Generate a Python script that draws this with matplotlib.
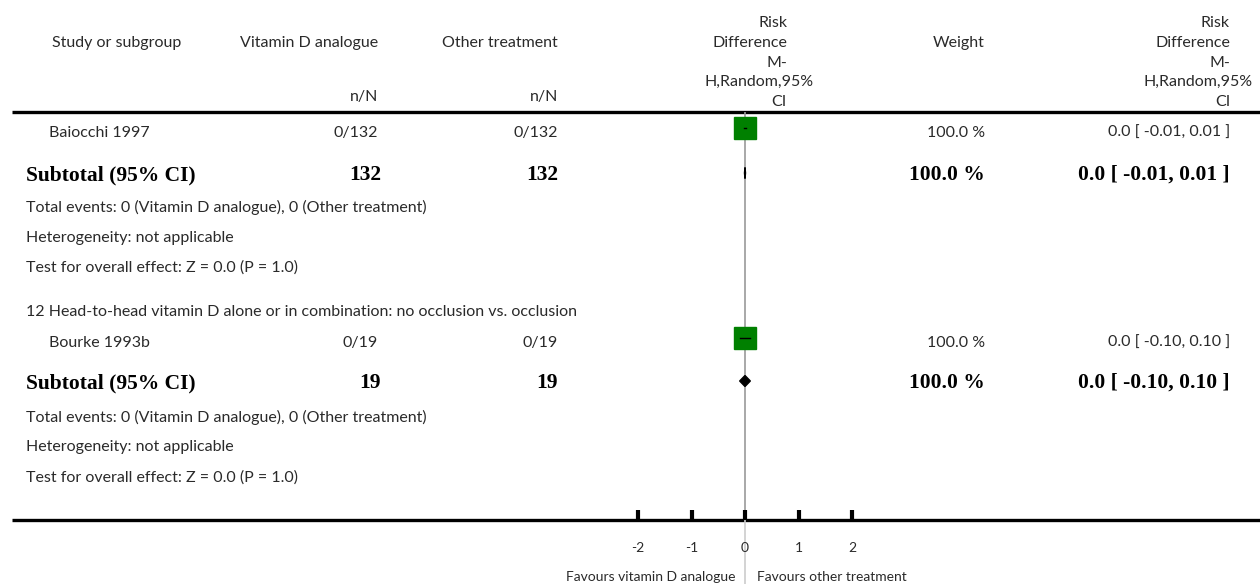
import matplotlib
matplotlib.use("Agg")
import matplotlib.pyplot as plt
from matplotlib.patches import Polygon

# Data
studies = ["Baiocchi 1997", "Bourke 1993b"]
vit_n = [0, 0]
vit_N = [132, 19]
oth_n = [0, 0]
oth_N = [132, 19]
rd = [0.0, 0.0]
ci_lo = [-0.01, -0.10]
ci_hi = [0.01, 0.10]
weights = [100.0, 100.0]

sub_vit_N = [132, 19]
sub_oth_N = [132, 19]
sub_rd = [0.0, 0.0]
sub_lo = [-0.01, -0.10]
sub_hi = [0.01, 0.10]
sub_weight = [100.0, 100.0]
sub_events = [(0, 0), (0, 0)]
sub_z = [0.0, 0.0]
sub_p = [1.0, 1.0]
subgroup_titles = [None, "12 Head-to-head vitamin D alone or in combination: no occlusion vs. occlusion"]

xticks = [-2, -1, 0, 1, 2]
left_label = "Favours vitamin D analogue"
right_label = "Favours other treatment"

# layout (pixel rows)
W, H = 1260, 584
study_y = [133, 343]
sub_y = [175, 383]
title_y = [None, 312]
info_y = [(207, 238, 268), (417, 447, 478)]
header_line = 112
axis_line = 520

sans = "Lato"
serif = "Liberation Serif"
tc = "#2a2a2a"
fs = 11.5
fsb = 15.5

fig = plt.figure(figsize=(W / 100, H / 100), dpi=100)
ax = fig.add_axes([0, 0, 1, 1])
ax.set_xlim(0, W)
ax.set_ylim(H, 0)
ax.axis("off")

# forest axes: 0 at x=745, 53.5 px per unit
x0, ppu = 745, 53.5
fax = fig.add_axes([(x0 - 3 * ppu) / W, (H - axis_line) / H, 6 * ppu / W, (axis_line - header_line) / H])
fax.set_xlim(-3, 3)
fax.set_ylim(axis_line, header_line)
fax.patch.set_alpha(0)
for s in ["top", "left", "right", "bottom"]:
    fax.spines[s].set_visible(False)
fax.set_yticks([])
fax.set_xticks(xticks)
fax.set_xticklabels([str(t) for t in xticks], fontsize=fs - 1.5, fontfamily=sans, color=tc)
fax.tick_params(axis="x", direction="in", length=7, width=3, pad=16, color="black")

# text helper, x/y in pixels
def txt(x, y, s, ha="left", bold=False, size=None):
    if bold:
        ax.text(x, y, s, ha=ha, va="center", color="black", fontsize=size or fsb,
                fontfamily=serif, fontweight="bold")
    else:
        ax.text(x, y, s, ha=ha, va="center", color=tc, fontsize=size or fs,
                fontfamily=sans)

txt(52, 43, "Study or subgroup")
txt(378, 43, "Vitamin D analogue", ha="right")
txt(378, 97, "n/N", ha="right")
txt(558, 43, "Other treatment", ha="right")
txt(558, 97, "n/N", ha="right")
txt(985, 43, "Weight", ha="right")
for xr, xh in [(787, 814), (1230, 1253)]:
    txt(xr, 23, "Risk", ha="right")
    txt(xr, 43, "Difference", ha="right")
    txt(xr, 63, "M-", ha="right")
    txt(xh, 82, "H,Random,95%", ha="right")
    txt(xr, 102, "CI", ha="right")

ax.plot([12, W], [header_line, header_line], color="black", lw=2.4, solid_capstyle="butt")
ax.plot([12, W], [axis_line, axis_line], color="black", lw=2.4, solid_capstyle="butt")
ax.plot([x0, x0], [axis_line, H], color="#cccccc", lw=1.2)
fax.axvline(0, color="#999999", lw=1.2, zorder=1)

for i in range(len(studies)):
    if subgroup_titles[i]:
        txt(26, title_y[i], subgroup_titles[i])
    y = study_y[i]
    txt(49, y, studies[i])
    txt(378, y, f"{vit_n[i]}/{vit_N[i]}", ha="right")
    txt(558, y, f"{oth_n[i]}/{oth_N[i]}", ha="right")
    txt(985, y, f"{weights[i]:.1f} %", ha="right")
    txt(1230, y, f"{rd[i]:.1f} [ {ci_lo[i]:.2f}, {ci_hi[i]:.2f} ]", ha="right")
    ms = 16 * (weights[i] / 100) ** 0.5
    fax.plot(rd[i], y - 5, marker="s", ms=ms, color="#008000", mec="#008000", zorder=2)
    fax.plot([ci_lo[i], ci_hi[i]], [y - 5, y - 5], color="black", lw=1, zorder=3)

    ys = sub_y[i]
    txt(26, ys, "Subtotal (95% CI)", bold=True)
    txt(381, ys, f"{sub_vit_N[i]}", ha="right", bold=True)
    txt(558, ys, f"{sub_oth_N[i]}", ha="right", bold=True)
    txt(985, ys, f"{sub_weight[i]:.1f} %", ha="right", bold=True)
    txt(1230, ys, f"{sub_rd[i]:.1f} [ {sub_lo[i]:.2f}, {sub_hi[i]:.2f} ]", ha="right", bold=True)
    dy = ys - 2
    fax.add_patch(Polygon([(sub_lo[i], dy), (sub_rd[i], dy - 5.5), (sub_hi[i], dy), (sub_rd[i], dy + 5.5)],
                          closed=True, color="black", zorder=3))

    e1, e2 = sub_events[i]
    a, b, c = info_y[i]
    txt(26, a, f"Total events: {e1} (Vitamin D analogue), {e2} (Other treatment)")
    txt(26, b, "Heterogeneity: not applicable")
    txt(26, c, f"Test for overall effect: Z = {sub_z[i]:.1f} (P = {sub_p[i]:.1f})")

txt(735, 577, left_label, ha="right", size=fs - 1.5)
txt(757, 577, right_label, size=fs - 1.5)

fig.savefig("out.png", dpi=100)
